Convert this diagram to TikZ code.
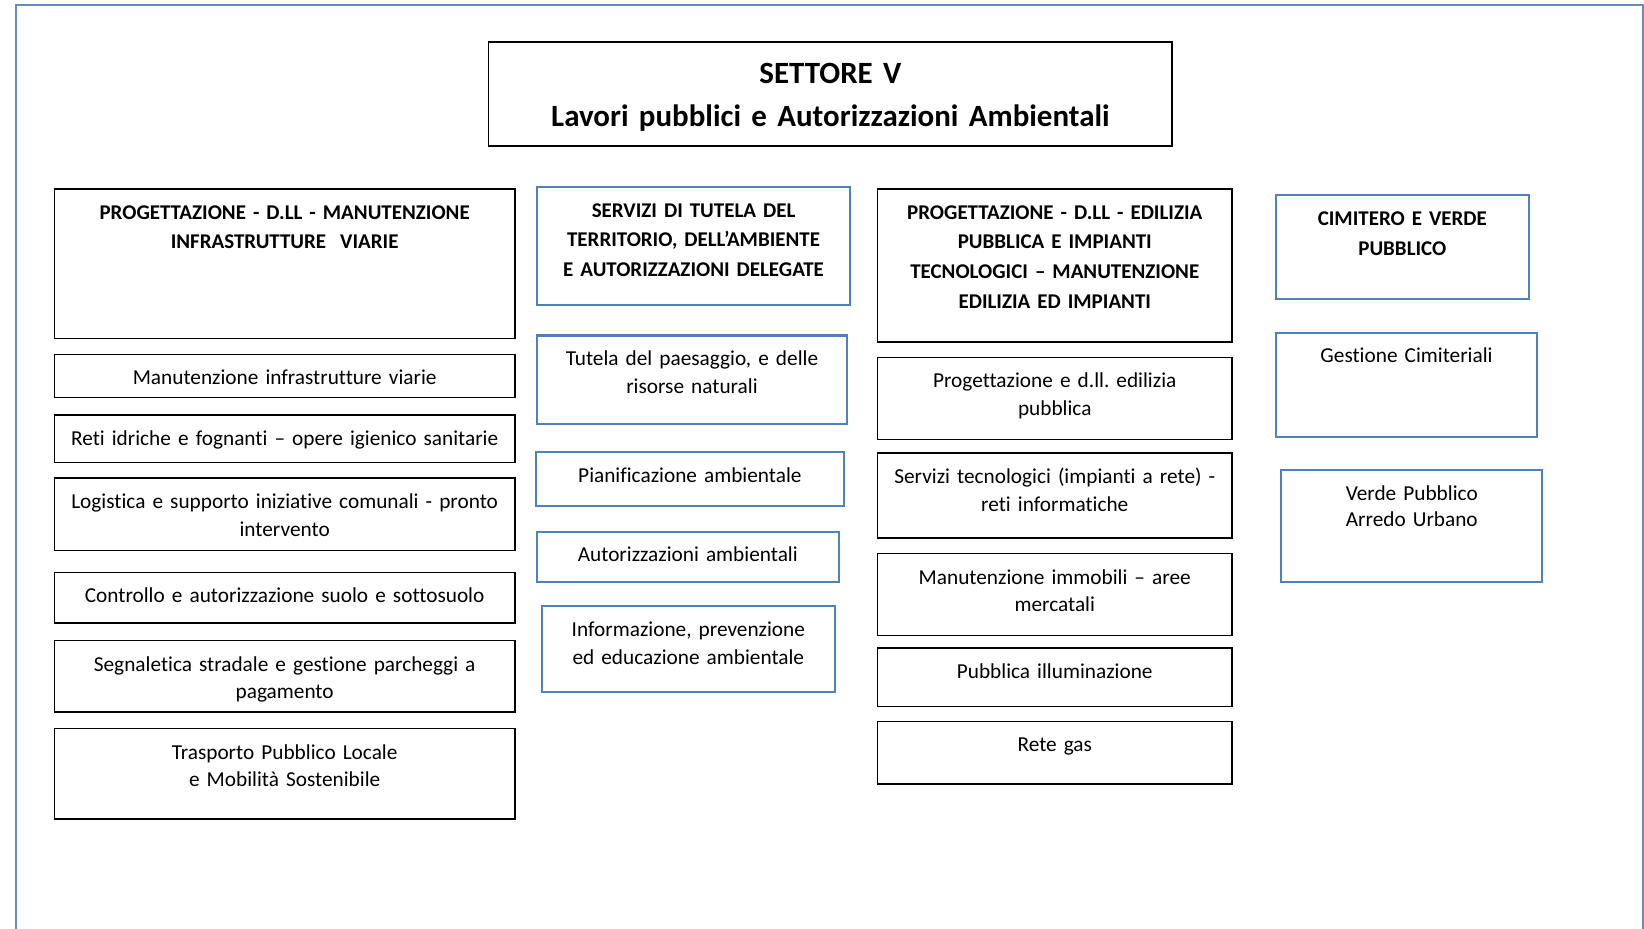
\documentclass[tikz,border=0pt]{standalone}
\usepackage{fontspec}
\setmainfont{Carlito}[Ligatures={TeX,NoCommon}, WordSpace=0.85]
\frenchspacing
\usetikzlibrary{positioning}
\definecolor{ufblue}{RGB}{79,129,189}
\definecolor{frameblue}{RGB}{100,140,190}

\begin{document}
\begin{tikzpicture}[x=1pt,y=-1pt,
    cell/.style={draw=black, line width=1.5pt, inner sep=0pt, outer sep=0pt, align=center, anchor=north west, text height=29pt, font=\fontsize{20.3}{26.5}\selectfont},
    bluecell/.style={cell, draw=ufblue, line width=2pt},
    head/.style={font=\bfseries\fontsize{20}{28.3}\selectfont},
    col1/.style={cell, text width=439pt},
    col3/.style={cell, text width=338pt}]
      \useasboundingbox (0,0) rectangle (1568,886);
      \draw[frameblue, line width=2pt] (15,890) |- (1567,5) -- (1567,890);

      \node[cell, text width=652pt, text height=40pt, text depth=59pt, font=\bfseries\fontsize{29.5}{41}\selectfont] (settore) at (466,40) {SETTORE V\\Lavori pubblici e Autorizzazioni Ambientali};

      % infrastrutture viarie
      \node[col1, head, text depth=114pt] (viab) at (52,180) {PROGETTAZIONE - D.LL - MANUTENZIONE\\INFRASTRUTTURE\ \ VIARIE};
      \node[col1, text depth=12pt, below=15pt of viab] (viab1) {Manutenzione infrastrutture viarie};
      \node[col1, text depth=16pt, below=17pt of viab1] (viab2) {Reti idriche e fognanti – opere igienico sanitarie};
      \node[col1, text depth=40pt, below=15pt of viab2] (viab3) {Logistica e supporto iniziative comunali - pronto\\intervento};
      \node[col1, text depth=19pt, below=21pt of viab3] (viab4) {Controllo e autorizzazione suolo e sottosuolo};
      \node[col1, text depth=39pt, below=17pt of viab4] (viab5) {Segnaletica stradale e gestione parcheggi a\\pagamento};
      \node[col1, text depth=57pt, below=16pt of viab5] (viab6) {Trasporto Pubblico Locale\\e Mobilità Sostenibile};

      % tutela del territorio
      \node[bluecell, head, text width=299pt, text depth=84pt] (tutela) at (512,178) {SERVIZI DI TUTELA DEL\\TERRITORIO, DELL’AMBIENTE\\E AUTORIZZAZIONI DELEGATE};
      \node[bluecell, text width=296pt, text depth=55pt] (tutela1) at (512,320) {Tutela del paesaggio, e delle\\risorse naturali};
      \node[bluecell, text width=294pt, text depth=23pt] (tutela2) at (511,431) {Pianificazione ambientale};
      \node[bluecell, text width=288pt, text depth=19pt] (tutela3) at (512,507) {Autorizzazioni ambientali};
      \node[bluecell, text width=279pt, text depth=53pt] (tutela4) at (517,578) {Informazione, prevenzione\\ed educazione ambientale};

      % edilizia e impianti
      \node[col3, head, text depth=117pt] (edil) at (837,180) {PROGETTAZIONE - D.LL - EDILIZIA\\PUBBLICA E IMPIANTI\\TECNOLOGICI – MANUTENZIONE\\EDILIZIA ED IMPIANTI};
      \node[col3, text depth=49pt, below=15pt of edil] (edil1) {Progettazione e d.ll. edilizia\\pubblica};
      \node[col3, text depth=52pt, below=13pt of edil1] (edil2) {Servizi tecnologici (impianti a rete) -\\reti informatiche};
      \node[col3, text depth=49pt, below=15pt of edil2] (edil3) {Manutenzione immobili – aree\\mercatali};
      \node[col3, text depth=27pt, below=12pt of edil3] (edil4) {Pubblica illuminazione};
      \node[col3, text depth=31pt, below=14pt of edil4] (edil5) {Rete gas};

      % cimitero e verde
      \node[bluecell, head, text width=241pt, text depth=70pt] (cimit) at (1217,186) {CIMITERO E VERDE\\PUBBLICO};
      \node[bluecell, text width=249pt, text depth=71pt, text height=28pt] (cimit1) at (1217,318) {Gestione Cimiteriali};
      \node[bluecell, text width=249pt, text depth=78pt, font=\fontsize{20.3}{25}\selectfont] (cimit2) at (1222,448) {Verde Pubblico\\Arredo Urbano};
\end{tikzpicture}
\end{document}
